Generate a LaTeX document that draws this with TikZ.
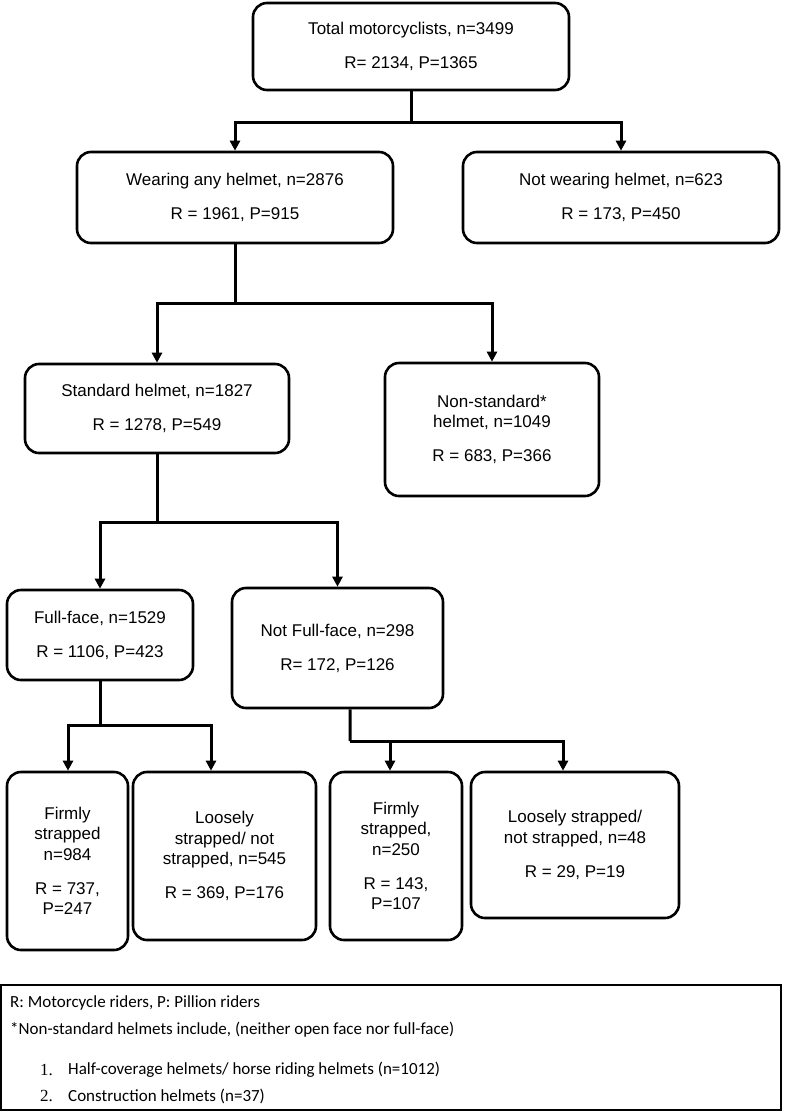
\documentclass[tikz,border=0pt]{standalone}
\usepackage{fontspec}
\setmainfont{Liberation Sans}
\newfontfamily\legendfont{Carlito}
\newfontfamily\numfont{Liberation Serif}
\usetikzlibrary{arrows.meta}

\tikzset{
  flowbox/.style={draw, line width=2.6bp, rounded corners=14bp, align=center, inner sep=0pt,
    font=\fontsize{17bp}{20.5bp}\selectfont},
  link/.style={line width=3bp},
  arrowlink/.style={link, -{Triangle[length=10bp,width=10bp]}},
  legendtext/.style={font=\legendfont\fontsize{17bp}{20bp}\selectfont, inner sep=0pt, anchor=west},
}
\newcommand{\gap}{13.5bp}

\begin{document}
\begin{tikzpicture}[x=1bp, y=-1bp]
    \useasboundingbox (0,0) rectangle (787,1112);

    % Caixas do fluxograma
    \node[flowbox, minimum width=316bp, minimum height=87bp] (total) at (411,46.5)
        {Total motorcyclists, n=3499\\[\gap]R= 2134, P=1365};
    \node[flowbox, minimum width=316bp, minimum height=91bp] (wear) at (235,197.5)
        {Wearing any helmet, n=2876\\[\gap]R = 1961, P=915};
    \node[flowbox, minimum width=316bp, minimum height=91bp] (notwear) at (621,197.5)
        {Not wearing helmet, n=623\\[\gap]R = 173, P=450};
    \node[flowbox, minimum width=264bp, minimum height=89bp] (std) at (157,408.5)
        {Standard helmet, n=1827\\[\gap]R = 1278, P=549};
    \node[flowbox, minimum width=214bp, minimum height=133bp] (nonstd) at (492,429.5)
        {Non-standard*\\helmet, n=1049\\[\gap]R = 683, P=366};
    \node[flowbox, minimum width=186bp, minimum height=90bp] (full) at (100,635)
        {Full-face, n=1529\\[\gap]R = 1106, P=423};
    \node[flowbox, minimum width=211bp, minimum height=120bp] (notfull) at (337.5,648)
        {Not Full-face, n=298\\[\gap]R= 172, P=126};
    \node[flowbox, minimum width=121bp, minimum height=178bp] (firm1) at (67.5,861)
        {Firmly\\strapped\\n=984\\[\gap]R = 737,\\P=247};
    \node[flowbox, minimum width=183bp, minimum height=168bp] (loose1) at (224.5,856)
        {Loosely\\strapped/ not\\strapped, n=545\\[\gap]R = 369, P=176};
    \node[flowbox, minimum width=132bp, minimum height=168bp] (firm2) at (396,856)
        {Firmly\\strapped,\\n=250\\[\gap]R = 143,\\P=107};
    \node[flowbox, minimum width=208bp, minimum height=146bp] (loose2) at (575,845)
        {Loosely strapped/\\not strapped, n=48\\[\gap]R = 29, P=19};

    % Ligacoes
    \coordinate (j1) at (411,122);
    \draw[link] (total.south) -- (j1);
    \draw[arrowlink] (j1) -| (wear.north);
    \draw[arrowlink] (j1) -| (notwear.north);

    \coordinate (j2) at (235,303);
    \draw[link] (wear.south) -- (j2);
    \draw[arrowlink] (j2) -| (std.north);
    \draw[arrowlink] (j2) -| (nonstd.north);

    \coordinate (j3) at (157,522);
    \draw[link] (std.south) -- (j3);
    \draw[arrowlink] (j3) -| (full.north);
    \draw[arrowlink] (j3) -| (notfull.north);

    \coordinate (j4) at (100,725);
    \draw[link] (full.south) -- (j4);
    \draw[arrowlink] (j4) -| ([xshift=0.5bp]firm1.north);
    \draw[arrowlink] (j4) -| ([xshift=-13.5bp]loose1.north);

    \coordinate (j5) at (350,741);
    \draw[link] ([xshift=12.5bp]notfull.south) -- (j5);
    \draw[arrowlink] (j5) -| ([xshift=-6bp]firm2.north);
    \draw[arrowlink] (j5) -| ([xshift=-12bp]loose2.north);

    % Legenda
    \node[draw, line width=1.6bp, minimum width=780bp, minimum height=125bp, inner sep=0pt]
        (legend) at (391,1047.5) {};
    \node[legendtext] (legR) at (10,1003) {R: Motorcycle riders, P: Pillion riders};
    \node[legendtext] (legNS) at (10,1030) {*Non-standard helmets include, (neither open face nor full-face)};
    \node[legendtext, font=\numfont\fontsize{17bp}{20bp}\selectfont] (num1) at (40,1070) {1.};
    \node[legendtext] (item1) at (68,1070) {Half-coverage helmets/ horse riding helmets (n=1012)};
    \node[legendtext, font=\numfont\fontsize{17bp}{20bp}\selectfont] (num2) at (40,1096) {2.};
    \node[legendtext] (item2) at (68,1096) {Construction helmets (n=37)};
\end{tikzpicture}
\end{document}
